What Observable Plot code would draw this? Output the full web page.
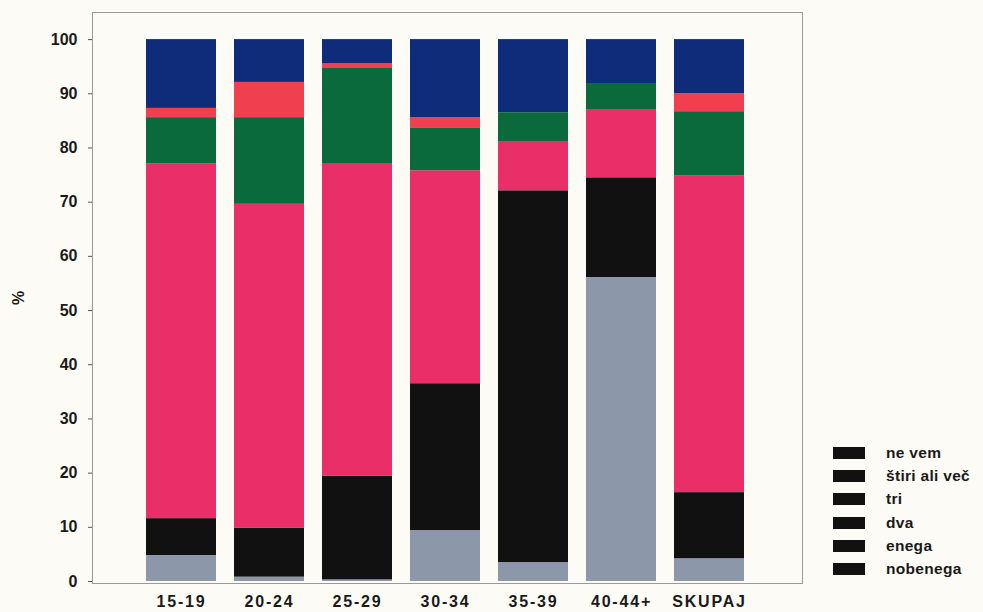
<!DOCTYPE html>
<html><head><meta charset="utf-8">
<script src="https://cdn.jsdelivr.net/npm/d3@7"></script>
<script src="https://cdn.jsdelivr.net/npm/@observablehq/plot@0.6"></script>
<style>
body{margin:0;background:#fcfbf6;font-family:"Liberation Sans",Arial,sans-serif;}
#wrap{position:relative;width:983px;height:612px;}
#legend{position:absolute;left:833px;top:441px;}
.li{display:flex;align-items:center;height:23.3px;font-size:15.5px;font-weight:bold;color:#1a1a1a;letter-spacing:0.3px;}
.sw{width:32px;height:12px;background:#111;margin-right:21px;}
</style></head>
<body><div id="wrap"><div id="legend"></div></div>
<script>
const groups = ["15-19","20-24","25-29","30-34","35-39","40-44+","SKUPAJ"];
const seriesNames = ["nobenega","enega","dva","tri","štiri ali več","ne vem"];
const nobenega = [4.8, 0.8, 0.3, 9.4, 3.5, 56.1, 4.2];
const enega    = [6.8, 9.0, 19.1, 27.1, 68.6, 18.4, 12.2];
const dva      = [65.5, 59.8, 57.6, 39.3, 9.1, 12.6, 58.5];
const tri      = [8.5, 16.0, 17.8, 7.8, 5.3, 4.8, 11.8];
const stiri    = [1.7, 6.5, 0.7, 2.0, 0.0, 0.0, 3.3];
const neVem    = [12.7, 7.9, 4.5, 14.4, 13.5, 8.1, 10.0];
const seriesColors = ["#8d97aa","#111111","#e92e68","#0b6a3c","#f0404f","#0e2c7a"];
const legendOrder = ["ne vem","štiri ali več","tri","dva","enega","nobenega"];
const yTicks = [0,10,20,30,40,50,60,70,80,90,100];

const allSeries = [nobenega, enega, dva, tri, stiri, neVem];
const rows = [];
groups.forEach((g, i) => seriesNames.forEach((s, j) => rows.push({group: g, series: s, value: allSeries[j][i]})));

const chart = Plot.plot({
  width: 983, height: 612,
  marginLeft: 92, marginRight: 181, marginTop: 12, marginBottom: 29,
  style: {background: "transparent", fontFamily: "'Liberation Sans', Arial, sans-serif"},
  x: {domain: groups, insetLeft: 35, insetRight: 39, padding: 0.207, label: null},
  y: {domain: [0, 105], insetBottom: 2, label: null},
  color: {domain: seriesNames, range: seriesColors},
  marks: [
    Plot.barY(rows, Plot.stackY({x: "group", y: "value", fill: "series", order: seriesNames})),
    Plot.frame({stroke: "#9a9a9a"}),
    Plot.axisY({ticks: yTicks, tickSize: 4, tickPadding: 11, fontSize: 16, fontWeight: "bold", fill: "#1a1a1a", stroke: "#555",
      label: "%", labelAnchor: "center", labelOffset: 80, labelArrow: "none"}),
    Plot.axisX({tickSize: 0, tickPadding: 12, fontSize: 16, fontWeight: "bold", fill: "#1a1a1a", label: null})
  ]
});
chart.style.position = "absolute";
chart.style.left = "0";
chart.style.top = "0";
chart.querySelectorAll("[aria-label='x-axis tick label'] text").forEach(t => t.setAttribute("letter-spacing", "1.8"));
document.getElementById("wrap").prepend(chart);

const leg = document.getElementById("legend");
legendOrder.forEach(name => {
  const d = document.createElement("div"); d.className = "li";
  d.innerHTML = '<span class="sw"></span><span></span>';
  d.lastChild.textContent = name;
  leg.appendChild(d);
});
</script></body></html>
